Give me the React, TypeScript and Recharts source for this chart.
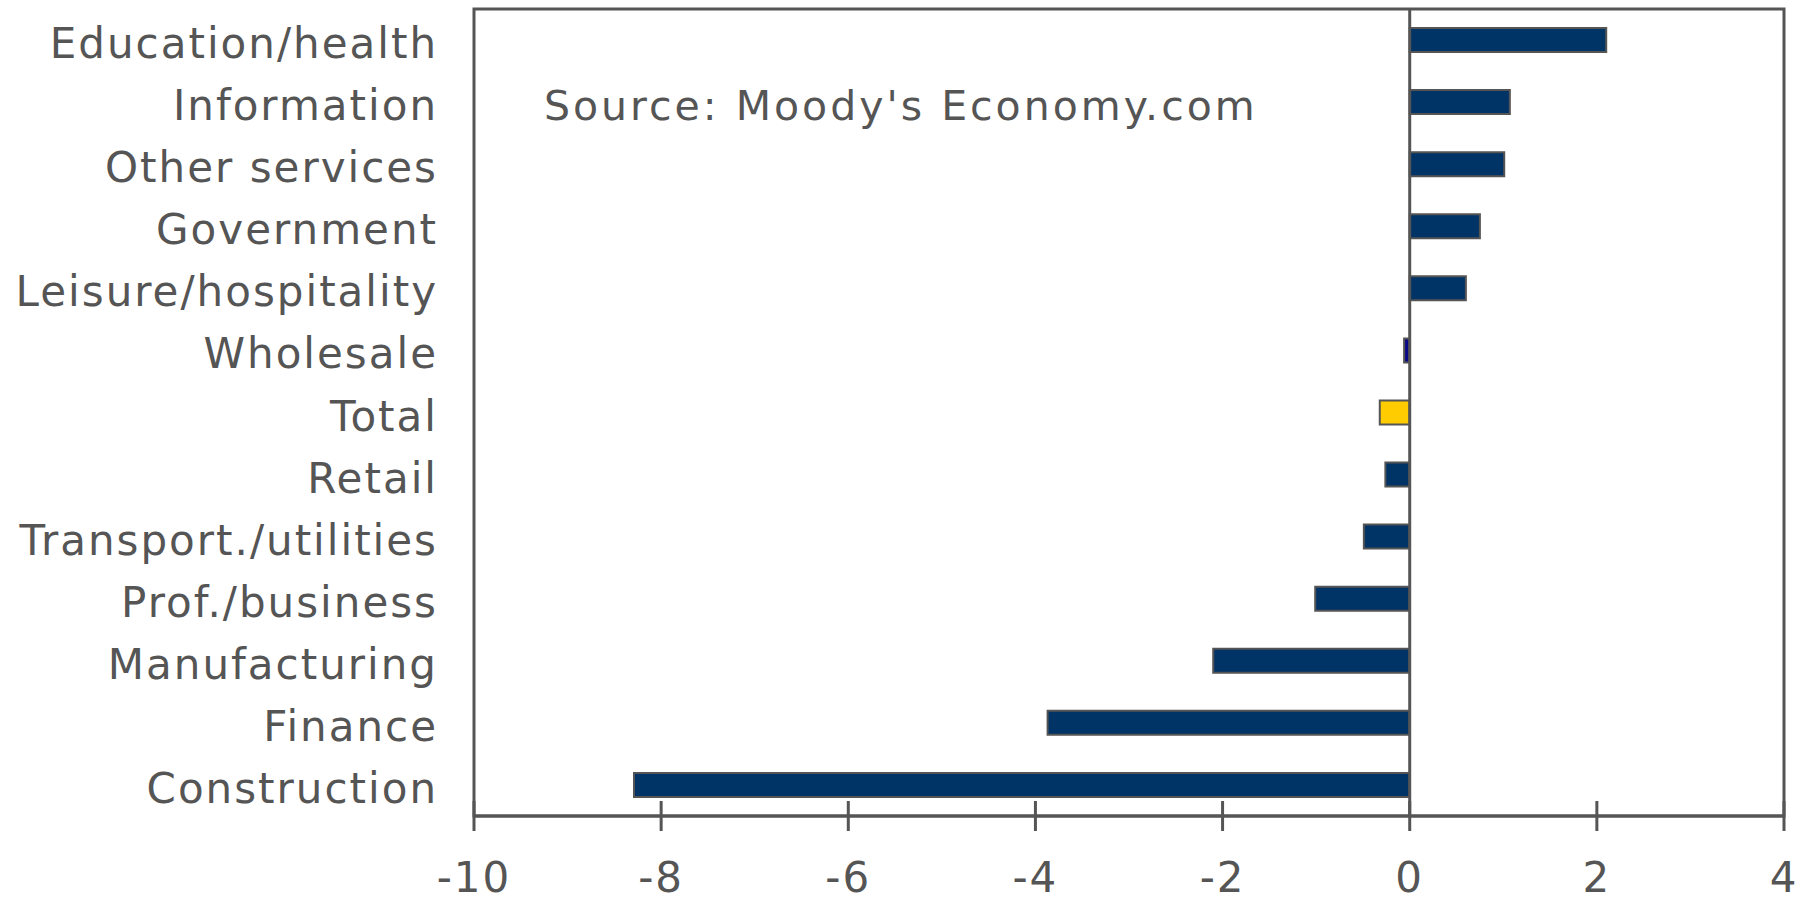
import React from "react"
import {
  Bar,
  BarChart,
  Cell,
  ReferenceArea,
  ReferenceLine,
  XAxis,
  YAxis,
} from "recharts"

const categories = [
  "Education/health",
  "Information",
  "Other services",
  "Government",
  "Leisure/hospitality",
  "Wholesale",
  "Total",
  "Retail",
  "Transport./utilities",
  "Prof./business",
  "Manufacturing",
  "Finance",
  "Construction",
]
const values = [2.1, 1.07, 1.01, 0.75, 0.6, -0.06, -0.32, -0.26, -0.49, -1.01, -2.1, -3.87, -8.29]
const xTicks = [-10, -8, -6, -4, -2, 0, 2, 4]

const NAVY = "#003366"
const GOLD = "#ffcc00"
const WHOLESALE_BLUE = "#0a0a88"
const INK = "#555555"
const FONT = "'DejaVu Sans', Verdana, sans-serif"

const rows = categories.map((name, i) => ({ name, value: values[i] }))

const barColor = (name: string) =>
  name === "Total" ? GOLD : name === "Wholesale" ? WHOLESALE_BLUE : NAVY

function XTick({ x, y, payload }: any) {
  return (
    <g>
      <line x1={x} x2={x} y1={y - 15} y2={y + 15} stroke={INK} strokeWidth={3} />
      <text
        x={x}
        y={y + 76}
        textAnchor="middle"
        fill={INK}
        fontSize={42}
        fontFamily={FONT}
        letterSpacing={2}
      >
        {payload.value}
      </text>
    </g>
  )
}

function YTick({ x, y, payload }: any) {
  return (
    <text
      x={x - 36}
      y={y}
      dy={18}
      textAnchor="end"
      fill={INK}
      fontSize={42}
      fontFamily={FONT}
      letterSpacing={2}
    >
      {payload.value}
    </text>
  )
}

export default function App() {
  return (
    <div style={{ position: "absolute", left: 0, top: 0, width: 1808, height: 903, background: "#fff" }}>
      <BarChart
        width={1808}
        height={903}
        data={rows}
        layout="vertical"
        margin={{ top: 9, right: 24, bottom: 0, left: 0 }}
        barSize={24}
      >
        <XAxis
          type="number"
          domain={[-10, 4]}
          ticks={xTicks}
          height={87}
          tickSize={0}
          tickMargin={0}
          tickLine={false}
          axisLine={{ stroke: INK, strokeWidth: 3 }}
          tick={<XTick />}
          interval={0}
        />
        <YAxis
          type="category"
          dataKey="name"
          width={474}
          tickSize={0}
          tickMargin={0}
          tickLine={false}
          axisLine={false}
          tick={<YTick />}
          interval={0}
        />
        <ReferenceArea x1={-10} x2={4} fill="none" stroke={INK} strokeWidth={3} ifOverflow="visible" />
        <Bar dataKey="value" stroke={INK} strokeWidth={2} isAnimationActive={false}>
          {rows.map((r) => (
            <Cell key={r.name} fill={barColor(r.name)} />
          ))}
        </Bar>
        <ReferenceLine x={0} stroke={INK} strokeWidth={3} />
      </BarChart>
      <div
        style={{
          position: "absolute",
          left: 544,
          top: 78,
          fontFamily: FONT,
          fontSize: 41,
          letterSpacing: 3,
          color: INK,
          whiteSpace: "pre",
          lineHeight: "56px",
        }}
      >
        {"Source: Moody's Economy.com"}
      </div>
    </div>
  )
}
